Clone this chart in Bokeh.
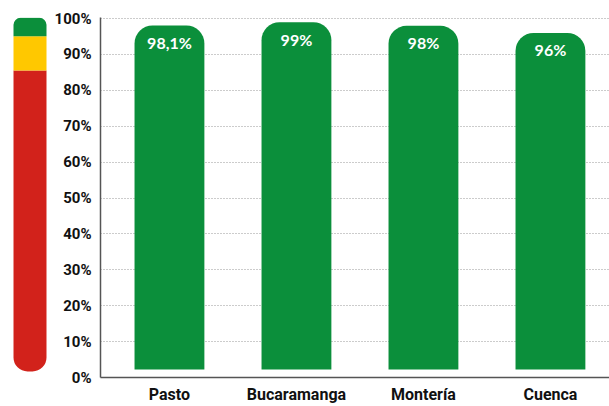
from bokeh.plotting import figure
from bokeh.layouts import row
from bokeh.models import Range1d, FixedTicker, ColumnDataSource
from bokeh.core.properties import value
from bokeh.embed import file_html
from bokeh.resources import INLINE

# ---- data ----
cities = ["Pasto", "Bucaramanga", "Montería", "Cuenca"]
percent = [98.1, 99, 98, 96]
value_labels = [(f"{v:g}%").replace(".", ",") for v in percent]
y_ticks = [0, 10, 20, 30, 40, 50, 60, 70, 80, 90, 100]
y_tick_labels = ["0%", "10%", "20%", "30%", "40%", "50%", "60%", "70%", "80%", "90%", "100%"]
gauge_levels = [85.5, 95.1]          # red below, yellow between, green above
gauge_colors = ["#d2221b", "#ffc800", "#0b8f3b"]

GREEN = "#0b8f3b"
FONT = "Roboto"

H = 406
TOP = 17
BOTTOM = 29

y_range = Range1d(0, 100.3)

# ---- gauge (left strip) ----
g = figure(width=51, height=H, x_range=Range1d(0, 51), y_range=y_range,
           toolbar_location=None, output_backend="svg",
           min_border_left=0, min_border_right=0,
           min_border_top=TOP, min_border_bottom=BOTTOM)
g.axis.visible = False
g.grid.visible = False
g.outline_line_color = None
gauge_bottom, gauge_top = 1.7, 100.2
bounds = [gauge_bottom] + gauge_levels + [gauge_top]
radii = [(0, 0, 14, 14), (0, 0, 0, 0), (7, 7, 0, 0)]
for i in range(3):
    g.vbar(x=[29.5], width=33, bottom=[bounds[i]], top=[bounds[i + 1]],
           fill_color=gauge_colors[i], line_color=None, border_radius=radii[i])

# ---- main chart ----
xs = list(range(len(cities)))
src = ColumnDataSource(dict(x=xs, top=percent, lab=value_labels))

p = figure(width=558, height=H, x_range=Range1d(-0.543, 3.465), y_range=y_range,
           toolbar_location=None, output_backend="svg",
           min_border_left=49, min_border_right=0,
           min_border_top=TOP, min_border_bottom=BOTTOM)
p.outline_line_color = None
p.xgrid.visible = False
p.ygrid.ticker = FixedTicker(ticks=y_ticks)
p.ygrid.grid_line_color = "#999999"
p.ygrid.grid_line_dash = "1 2"
p.ygrid.grid_line_width = 1

p.vbar(x="x", top="top", bottom=2.2, width=0.55, source=src,
       fill_color=GREEN, line_color=None, border_radius=(18, 18, 0, 0))

p.text(x="x", y="top", text="lab", source=src, y_offset=17,
       text_font=value("Lato"), text_font_style="bold", text_font_size="16px",
       text_color="white", text_align="center", text_baseline="middle")

p.yaxis.ticker = FixedTicker(ticks=y_ticks)
p.yaxis.major_label_overrides = {t: l for t, l in zip(y_ticks, y_tick_labels)}
p.xaxis.ticker = FixedTicker(ticks=xs)
p.xaxis.major_label_overrides = {i: c for i, c in zip(xs, cities)}

for ax in (p.xaxis, p.yaxis):
    ax.axis_line_color = "#555555"
    ax.axis_line_width = 1.5
    ax.major_tick_line_color = None
    ax.minor_tick_line_color = None
    ax.major_tick_out = 0
    ax.major_tick_in = 0
    ax.major_label_text_font = FONT
    ax.major_label_text_font_style = "bold"
    ax.major_label_text_font_size = "15px"
    ax.major_label_text_color = "#111111"
p.xaxis.major_label_text_font_size = "16px"
p.yaxis.major_label_standoff = 9
p.xaxis.major_label_standoff = 7

layout = row(g, p, spacing=0)
open("out.html", "w").write(file_html(layout, INLINE))
